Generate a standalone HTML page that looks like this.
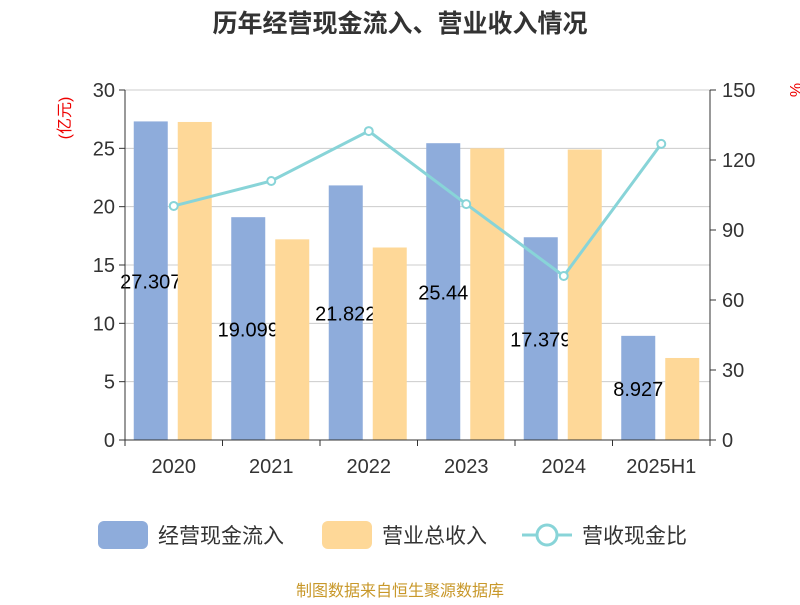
<!DOCTYPE html>
<html><head><meta charset="utf-8"><style>
body{margin:0;background:#fff;}
svg text{font-family:"Liberation Sans","Noto Sans CJK SC",sans-serif;}
</style></head><body>
<svg id="chart" width="800" height="600" xmlns="http://www.w3.org/2000/svg">
<text x="400" y="32" text-anchor="middle" font-size="25" font-weight="bold" fill="#333">历年经营现金流入、营业收入情况</text>
<text x="70" y="118" font-size="16" fill="#e00" transform="rotate(-90 70 118)" text-anchor="middle">(亿元)</text>
<text x="790" y="90" font-size="16" fill="#e00" transform="rotate(90 790 90)" text-anchor="middle">%</text>
<g id="grid"></g><g id="bars"></g><g id="line"></g><g id="axes"></g>
<g>
<rect x="98" y="521" width="50" height="28" rx="6" fill="#8eacdb"/>
<text x="158" y="543" font-size="21" fill="#333">经营现金流入</text>
<rect x="322" y="521" width="50" height="28" rx="6" fill="#fed898"/>
<text x="382" y="543" font-size="21" fill="#333">营业总收入</text>
<line x1="522" y1="535" x2="572" y2="535" stroke="#88d4d8" stroke-width="3"/>
<circle cx="547" cy="535" r="10" fill="#fff" stroke="#88d4d8" stroke-width="3"/>
<text x="582" y="543" font-size="21" fill="#333">营收现金比</text>
</g>
<text x="400" y="596" text-anchor="middle" font-size="16" fill="#c8982a">制图数据来自恒生聚源数据库</text>
</svg>
<script>
const categories=["2020","2021","2022","2023","2024","2025H1"];
const cashInflow=[27.307,19.099,21.822,25.44,17.379,8.927];
const revenue=[27.26,17.2,16.5,25.0,24.9,7.03];
const ratio=[100.3,111,132.4,101.1,70.3,126.9];
const leftTicks=[0,5,10,15,20,25,30];
const rightTicks=[0,30,60,90,120,150];
const NS="http://www.w3.org/2000/svg";
const x0=125,x1=710,yB=440,yT=90;
const bw=(x1-x0)/categories.length;
const cx=i=>x0+bw*(i+0.5);
const yL=v=>yB-(v/30)*(yB-yT);
const yR=v=>yB-(v/150)*(yB-yT);
function mk(t,a,p){const e=document.createElementNS(NS,t);for(const k in a)e.setAttribute(k,a[k]);p.appendChild(e);return e;}
const grid=document.getElementById('grid'),bars=document.getElementById('bars'),line=document.getElementById('line'),axes=document.getElementById('axes');
leftTicks.forEach(v=>{
 const g=mk('line',{x1:x0,x2:x1,y1:yL(v),y2:yL(v),stroke:'#ccc','stroke-width':1},grid);
 
 
 const tk=mk('line',{x1:x0-6,x2:x0,y1:yL(v),y2:yL(v),stroke:'#333'},axes);
 
 
 const t=mk('text',{x:x0-10,y:yL(v)+7,'text-anchor':'end','font-size':20,fill:'#333'},axes);t.textContent=v;
 
 
});
rightTicks.forEach(v=>{
 const tk=mk('line',{x1:x1,x2:x1+6,y1:yR(v),y2:yR(v),stroke:'#333'},axes);
 
 
 const t=mk('text',{x:x1+12,y:yR(v)+7,'font-size':20,fill:'#333'},axes);t.textContent=v;
 
 
});
let a=mk('line',{x1:x0,x2:x0,y1:yT,y2:yB,stroke:'#333'},axes);


a=mk('line',{x1:x1,x2:x1,y1:yT,y2:yB,stroke:'#333'},axes);


a=mk('line',{x1:x0,x2:x1,y1:yB,y2:yB,stroke:'#333'},axes);


categories.forEach((c,i)=>{
 for(let k=0;k<=categories.length;k++){}
 const tk=mk('line',{x1:x0+bw*i,x2:x0+bw*i,y1:yB,y2:yB+6,stroke:'#333'},axes);
 
 
 const t=mk('text',{x:cx(i),y:yB+33,'text-anchor':'middle','font-size':20,fill:'#333'},axes);t.textContent=c;
 
 
});
const tkE=mk('line',{x1:x1,x2:x1,y1:yB,y2:yB+6,stroke:'#333'},axes);


categories.forEach((c,i)=>{
 const b=mk('rect',{x:cx(i)-40,y:yL(cashInflow[i]),width:34,height:yB-yL(cashInflow[i]),fill:'#8eacdb'},bars);
 
 
 const t=mk('text',{x:cx(i)-23,y:(yB+yL(cashInflow[i]))/2+8,'text-anchor':'middle','font-size':20,fill:'#000'},bars);t.textContent=cashInflow[i];
 
 
});
categories.forEach((c,i)=>{
 const b=mk('rect',{x:cx(i)+4,y:yL(revenue[i]),width:34,height:yB-yL(revenue[i]),fill:'#fed898'},bars);
 
 
});
const pl=mk('polyline',{points:ratio.map((v,i)=>cx(i)+','+yR(v)).join(' '),fill:'none',stroke:'#88d4d8','stroke-width':3},line);


ratio.forEach((v,i)=>{
 const p=mk('circle',{cx:cx(i),cy:yR(v),r:4,fill:'#fff',stroke:'#88d4d8','stroke-width':2},line);
 
 
});
</script>
</body></html>
